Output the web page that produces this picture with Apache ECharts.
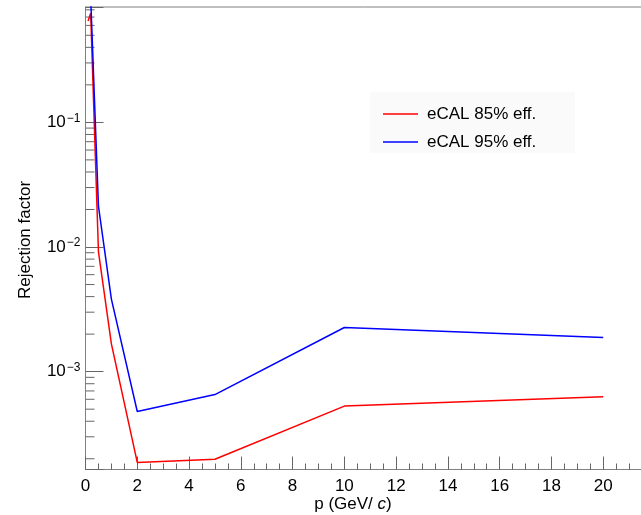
<!DOCTYPE html>
<html>
<head>
<meta charset="utf-8">
<script src="https://cdn.jsdelivr.net/npm/echarts@6/dist/echarts.min.js"></script>
<style>
  html, body { margin: 0; padding: 0; background: #fff; }
  #chart { width: 641px; height: 515px; }
</style>
</head>
<body>
<div id="chart"></div>
<script>
// Momentum points (GeV/c) and rejection factors for the two eCAL working points
const pRed = [0.1, 0.2, 0.5, 1, 2, 5, 10, 20];
const rej85 = [0.65, 0.75, 0.0092, 0.00167, 0.000187, 0.000198, 0.000529, 0.00063];
const pBlue = [0.2, 0.5, 1, 2, 5, 10, 20];
const rej95 = [1.0, 0.0213, 0.00382, 0.000479, 0.000655, 0.00226, 0.00188];

const seriesNames = ['eCAL 85% eff.', 'eCAL 95% eff.'];

// Log-axis decoration: mantissas of the minor ticks and the decades they sit in
const minorMantissas = [2, 3, 4, 5, 6, 7, 8, 9];
const minorDecades = [1e-4, 1e-3, 1e-2, 1e-1];

const yMin = 1.64e-4, yMax = 0.843;
const xMin = 0, xMax = 22;

const FONT = '"Liberation Sans", Arial, Helvetica, sans-serif';
const AXIS_GRAY = '#808080';

const minorTickData = [];
minorDecades.forEach(d => minorMantissas.forEach(m => {
  const v = m * d;
  if (v > yMin && v < yMax) minorTickData.push([xMin, v]);
}));

const zip = (xs, ys) => xs.map((x, i) => [x, ys[i]]);

const chart = echarts.init(document.getElementById('chart'), null, { renderer: 'canvas' });

chart.setOption({
  animation: false,
  backgroundColor: '#ffffff',
  textStyle: { fontFamily: FONT },
  grid: {
    left: 85.5, top: 7, bottom: 45.5, right: -14,
    outerBoundsMode: 'none', containLabel: false,
    show: true, borderColor: AXIS_GRAY, borderWidth: 1, backgroundColor: 'transparent'
  },
  graphic: [
    {
      type: 'rect', z: 0, silent: true,
      shape: { x: 370, y: 92, width: 205, height: 61 },
      style: { fill: '#fafafa' }
    },
    {
      type: 'text', z: 10, silent: true,
      style: {
        x: 353, y: 504, text: 'p (GeV/ {i|c})', textAlign: 'center', textVerticalAlign: 'middle',
        font: '17px ' + FONT, fill: '#000',
        rich: { i: { fontStyle: 'italic', fontSize: 17, fontFamily: FONT } }
      }
    },
    {
      type: 'text', z: 10, silent: true, x: 25, y: 240, rotation: Math.PI / 2,
      style: {
        x: 0, y: 0, text: 'Rejection factor', textAlign: 'center', textVerticalAlign: 'middle',
        font: '17px ' + FONT, fill: '#000'
      }
    }
  ],
  legend: {
    data: seriesNames,
    orient: 'vertical',
    left: 378, top: 99,
    icon: 'rect', itemWidth: 35, itemHeight: 1.6, itemGap: 8,
    textStyle: { fontSize: 17, lineHeight: 20, color: '#000', fontFamily: FONT, padding: [0, 0, 0, 4] }
  },
  xAxis: {
    type: 'value', min: xMin, max: xMax, interval: 2,
    axisLine: { show: true, lineStyle: { color: AXIS_GRAY, width: 1 } },
    axisTick: { show: true, inside: true, length: 13, lineStyle: { color: '#666' } },
    minorTick: { show: true, splitNumber: 4, length: 6, lineStyle: { color: '#666' } },
    splitLine: { show: false },
    axisLabel: { fontSize: 17, color: '#000', margin: 8, fontFamily: FONT }
  },
  yAxis: {
    type: 'log', logBase: 10, min: yMin, max: yMax,
    axisLine: { show: true, lineStyle: { color: AXIS_GRAY, width: 1 } },
    axisTick: { show: true, inside: true, length: 18, lineStyle: { color: '#666' } },
    splitLine: { show: false },
    axisLabel: {
      margin: 5, color: '#000',
      formatter: function (v) {
        const e = Math.log10(v);
        const r = Math.round(e);
        if (Math.abs(e - r) > 1e-6) return '';
        return '{b|10}{s|' + (r < 0 ? '\u2212' + (-r) : r) + '}';
      },
      rich: {
        b: { fontSize: 17, lineHeight: 20, fontFamily: FONT, color: '#000' },
        s: { fontSize: 12, lineHeight: 20, verticalAlign: 'top', fontFamily: FONT, color: '#000', padding: [0, 0, 0, 1] }
      }
    }
  },
  series: [
    {
      name: seriesNames[0], type: 'line', data: zip(pRed, rej85),
      color: '#ff0000', symbol: 'none', clip: true,
      lineStyle: { width: 1.5, color: '#ff0000' }, z: 3
    },
    {
      name: seriesNames[1], type: 'line', data: zip(pBlue, rej95),
      color: '#0000ff', symbol: 'none', clip: true,
      lineStyle: { width: 1.5, color: '#0000ff' }, z: 4
    },
    {
      // short inner ticks at 2..9 within each decade of the log axis
      type: 'custom', silent: true, z: 2, clip: false,
      data: minorTickData,
      renderItem: function (params, api) {
        const p = api.coord([api.value(0), api.value(1)]);
        return {
          type: 'line',
          shape: { x1: p[0], y1: p[1], x2: p[0] + 9, y2: p[1] },
          style: { stroke: '#666', lineWidth: 1 }
        };
      }
    }
  ]
});
</script>
</body>
</html>
